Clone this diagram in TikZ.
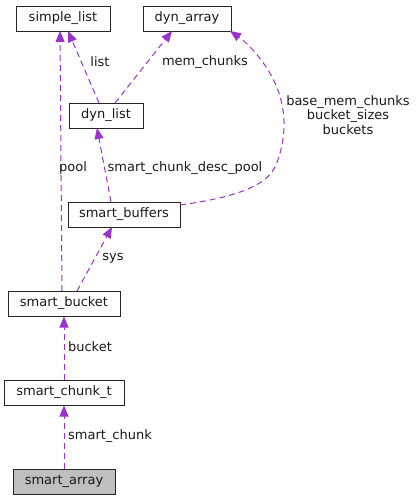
\documentclass[tikz,border=0pt]{standalone}
\usepackage{fontspec}
\setmainfont{DejaVu Sans}
\usetikzlibrary{arrows.meta}
\definecolor{edgecol}{HTML}{9A32CD}
\definecolor{boxgray}{HTML}{BFBFBF}
\begin{document}
\begin{tikzpicture}[x=1pt,y=-1pt,
  cls/.style={draw=black!85,line width=1pt,minimum height=25pt,inner sep=0pt,font=\fontsize{13}{15}\selectfont,text=black!90},
  rel/.style={draw=edgecol,dash pattern=on 6pt off 4pt,line width=1pt,-{Triangle[length=11pt,width=9pt]}},
  lbl/.style={font=\fontsize{13}{14.5}\selectfont,text=black!90,inner sep=0pt,align=center}]
\useasboundingbox (0,0) rectangle (417,501);
\node[cls,minimum width=94pt] (simple) at (63,18.5) {simple\_list};
\node[cls,minimum width=88pt] (dynarray) at (187,18.5) {dyn\_array};
\node[cls,minimum width=74pt] (dynlist) at (106,115.5) {dyn\_list};
\node[cls,minimum width=112pt] (buffers) at (124,214.5) {smart\_buffers};
\node[cls,minimum width=112pt] (bucket) at (64,303.5) {smart\_bucket};
\node[cls,minimum width=120pt] (chunk) at (64,392.5) {smart\_chunk\_t};
\node[cls,minimum width=102pt,fill=boxgray] (array) at (64,481.5) {smart\_array};

\coordinate (dl1) at (99,103);
\coordinate (dl2) at (115,103);
\coordinate (sl1) at (68,31);
\coordinate (sl2) at (60,31);
\coordinate (da1) at (172,31);
\coordinate (da2) at (230,31);
\coordinate (sb1) at (62,291);
\coordinate (sb2) at (77,291);
\coordinate (bf1) at (111,202);
\coordinate (bf2) at (112,227);
\coordinate (bf3) at (180,205);
\coordinate (dlb) at (97,128);

\draw[rel] (dl1) -- (sl1);
\node[lbl] (llist) at (100,62) {list};
\draw[rel] (dl2) -- (da1);
\node[lbl] (lmem) at (205,62) {mem\_chunks};
\draw[rel] (sb1) -- (sl2);
\node[lbl] (lpool) at (73,168) {pool};
\draw[rel] (bf1) -- (dlb);
\node[lbl] (ldesc) at (185,168) {smart\_chunk\_desc\_pool};
\draw[rel] (bf3) .. controls (245,196) and (268,183) .. (276,165) .. controls (286,140) and (290,105) .. (268,70) .. controls (258,54) and (246,42) .. (da2);
\node[lbl] (lbase) at (348,115) {base\_mem\_chunks\\bucket\_sizes\\buckets};
\draw[rel] (sb2) -- (bf2);
\node[lbl] (lsys) at (113,258) {sys};
\draw[rel] (chunk.north) -- (bucket.south);
\node[lbl] (lbucket) at (90,347) {bucket};
\draw[rel] (array.north) -- (chunk.south);
\node[lbl] (lchunk) at (110,436) {smart\_chunk};
\end{tikzpicture}
\end{document}
